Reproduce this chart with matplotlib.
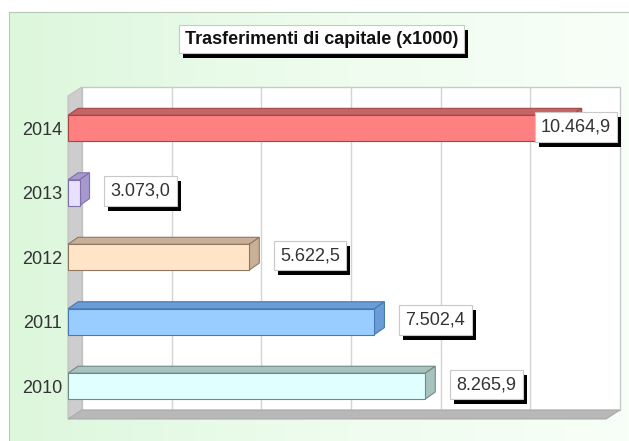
import numpy as np
import matplotlib
matplotlib.use('Agg')
import matplotlib.pyplot as plt
from matplotlib.patches import Rectangle, Polygon
from matplotlib.colors import LinearSegmentedColormap
from matplotlib.transforms import IdentityTransform

plt.rcParams['font.family'] = ['Liberation Sans', 'DejaVu Sans']

# Trasferimenti di capitale (x1000), per anno
anni = ['2010', '2011', '2012', '2013', '2014']
valori = [8265.9, 7502.4, 5622.5, 3073.0, 10464.9]
etichette = ['8.265,9', '7.502,4', '5.622,5', '3.073,0', '10.464,9']

col_fronte = ['#e0ffff', '#99ccff', '#ffe4c8', '#e8e0ff', '#ff8080']
col_lato = ['#a8c2be', '#6a9cd8', '#c8b098', '#a898d0', '#c46464']
col_bordo = ['#708a88', '#4a78b0', '#907860', '#8070a8', '#a04848']

W, H = 629, 441
xmin, xmax = 2900, 10980
ymin, ymax = -0.51, 4.5
h = 0.40
fs = 13

fig = plt.figure(figsize=(W / 100, H / 100), dpi=100)
fig.patch.set_facecolor('white')

# pannello di sfondo verde sfumato
bg = fig.add_axes([9 / W, 0, 1 - 9 / W, (H - 12) / H])
grad = np.linspace(0, 1, 256).reshape(1, -1)
cmap = LinearSegmentedColormap.from_list('g', ['#dcf7dc', '#eefcee', '#f8fff8'])
bg.imshow(grad, aspect='auto', cmap=cmap, extent=[0, 1, 0, 1])
bg.set_xlim(0, 1)
bg.set_ylim(0, 1)
for s in ['right', 'bottom']:
    bg.spines[s].set_visible(False)
for s in ['top', 'left']:
    bg.spines[s].set_color('#b8c8b8')
bg.set_xticks([])
bg.set_yticks([])

ax = fig.add_axes([68 / W, (H - 419) / H, 538 / W, 323 / H])
ax.set_xlim(xmin, xmax)
ax.set_ylim(ymin, ymax)
ax.patch.set_visible(False)
for s in ax.spines.values():
    s.set_visible(False)

# profondita' 3D in unita' dati (pareti e barre)
ux = (xmax - xmin) / 538
uy = (ymax - ymin) / 323
ddx, ddy = 14 * ux, 9 * uy
bdx, bdy = 10 * ux, 7 * uy

# parete di fondo con griglia
ax.add_patch(Rectangle((xmin + ddx, ymin + ddy), xmax - xmin, ymax - ymin,
                       fc='white', ec='#c8c8c8', lw=1, clip_on=False, zorder=1))
for g in np.linspace(xmin, xmax, 7)[1:-1]:
    ax.plot([g + ddx, g + ddx], [ymin + ddy, ymax + ddy], color='#d4d4d4',
            lw=1, clip_on=False, zorder=1.5)
# parete laterale e pavimento
ax.add_patch(Polygon([(xmin, ymin), (xmin + ddx, ymin + ddy), (xmin + ddx, ymax + ddy),
                      (xmin, ymax)], closed=True, fc='#cdcdcd', ec='#c0c0c0',
                     lw=0.8, clip_on=False, zorder=2))
ax.add_patch(Polygon([(xmin, ymin), (xmax, ymin), (xmax + ddx, ymin + ddy),
                      (xmin + ddx, ymin + ddy)], closed=True, fc='#b8b8b8', ec='#ababab',
                     lw=0.8, clip_on=False, zorder=2))

# barre 3D
for i, v in enumerate(valori):
    y0, y1 = i - h / 2, i + h / 2
    ax.add_patch(Polygon([(xmin, y1), (v, y1), (v + bdx, y1 + bdy), (xmin + bdx, y1 + bdy)],
                         closed=True, fc=col_lato[i], ec=col_bordo[i], lw=0.8,
                         clip_on=False, zorder=3))
    ax.add_patch(Polygon([(v, y0), (v + bdx, y0 + bdy), (v + bdx, y1 + bdy), (v, y1)],
                         closed=True, fc=col_lato[i], ec=col_bordo[i], lw=0.8,
                         clip_on=False, zorder=3))
    ax.add_patch(Rectangle((xmin, y0), v - xmin, h, fc=col_fronte[i], ec=col_bordo[i],
                           lw=0.8, clip_on=False, zorder=4))

ax.set_yticks(range(len(anni)))
ax.set_yticklabels(anni, fontsize=fs, color='#333333')
ax.tick_params(axis='y', length=0, pad=4.3)
ax.set_xticks([])

valori_txt = []
vmax = max(valori)
for i, (v, t) in enumerate(zip(valori, etichette)):
    if v == vmax:
        xy, dx, ha = (xmax, i), 5, 'right'
    else:
        xy, dx, ha = (v, i), 31, 'left'
    valori_txt.append(ax.annotate(
        t, xy=xy, xytext=(dx, 1.5), textcoords='offset pixels', ha=ha, va='center',
        fontsize=fs, color='#333333', zorder=7, annotation_clip=False,
        bbox=dict(boxstyle='square,pad=0.35', fc='white', ec='#c8c8c8', lw=0.8)))

# titolo
titolo = fig.text(321.5 / W, 1 - 39 / H, 'Trasferimenti di capitale (x1000)',
                  ha='center', va='center', fontsize=fs, fontweight='bold',
                  color='#111111', zorder=7,
                  bbox=dict(boxstyle='square,pad=0.3', fc='white', ec='#c8c8c8', lw=0.8))

# ombre nere dietro ai riquadri
fig.canvas.draw()


def ombra(t):
    bb = t.get_bbox_patch().get_window_extent()
    return Rectangle((bb.x0 + 4, bb.y0 - 5), bb.width, bb.height,
                     transform=IdentityTransform(), fc='black', ec='none',
                     zorder=5, clip_on=False)


for t in valori_txt:
    ax.add_patch(ombra(t))
fig.patches.append(ombra(titolo))

fig.savefig('out.png', dpi=100)
